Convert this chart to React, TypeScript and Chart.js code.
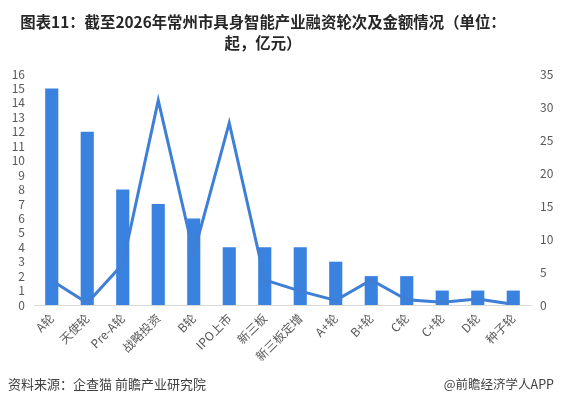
import React, { useEffect, useRef } from "react";
import { Chart, registerables } from "chart.js";

Chart.register(...registerables);

const categories = ["A轮", "天使轮", "Pre-A轮", "战略投资", "B轮", "IPO上市", "新三板", "新三板定增", "A+轮", "B+轮", "C轮", "C+轮", "D轮", "种子轮"];
const dealCounts = [15, 12, 8, 7, 6, 4, 4, 4, 3, 2, 2, 1, 1, 1];
const amounts = [3.7, 0.3, 6.2, 31, 7.8, 27.6, 3.8, 2.1, 0.7, 3.8, 0.8, 0.4, 0.9, 0.1];
const titleLines = ["图表11：截至2026年常州市具身智能产业融资轮次及金额情况（单位：", "起，亿元）"];
const sourceText = "资料来源：企查猫 前瞻产业研究院";
const brandText = "@前瞻经济学人APP";

const FONT = "'Noto Sans CJK SC', 'Noto Sans', sans-serif";

export default function App() {
  const ref = useRef<HTMLCanvasElement | null>(null);

  useEffect(() => {
    if (!ref.current) return;
    const chart = new Chart(ref.current, {
      type: "bar",
      data: {
        labels: categories,
        datasets: [
          {
            type: "line",
            label: "金额",
            data: amounts,
            yAxisID: "y1",
            borderColor: "#3f7fd6",
            borderWidth: 3,
            pointRadius: 0,
            tension: 0,
            fill: false,
            order: 1,
          },
          {
            type: "bar",
            label: "起数",
            data: dealCounts,
            yAxisID: "y",
            backgroundColor: "#3a82e0",
            categoryPercentage: 1,
            barPercentage: 0.37,
            order: 2,
          },
        ],
      },
      options: {
        responsive: false,
        animation: false,
        layout: { padding: { top: 74, left: 0, right: 0, bottom: 0 } },
        plugins: {
          legend: { display: false },
          title: { display: false },
          tooltip: { enabled: false },
        },
        scales: {
          x: {
            offset: true,
            grid: { display: false, drawTicks: false },
            border: { display: true, color: "#d9d9d9", width: 1 },
            ticks: {
              minRotation: 45,
              maxRotation: 45,
              autoSkip: false,
              padding: 6,
              color: "#595959",
              font: { size: 12, family: FONT },
            },
            afterFit: (s: any) => {
              s.height = 104;
            },
          },
          y: {
            position: "left",
            min: 0,
            max: 16,
            grid: { display: false, drawTicks: false },
            border: { display: false },
            ticks: {
              stepSize: 1,
              autoSkip: false,
              padding: 9,
              color: "#595959",
              font: { size: 12, family: FONT },
            },
            afterFit: (s: any) => {
              s.width = 34;
            },
          },
          y1: {
            position: "right",
            min: 0,
            max: 35,
            grid: { display: false, drawTicks: false },
            border: { display: false },
            ticks: {
              stepSize: 5,
              autoSkip: false,
              padding: 9,
              color: "#595959",
              font: { size: 12, family: FONT },
            },
            afterFit: (s: any) => {
              s.width = 37;
            },
          },
        },
      },
    });
    return () => chart.destroy();
  }, []);

  return (
    <div style={{ position: "fixed", left: 0, top: 0, width: 568, height: 409, background: "#fff", fontFamily: FONT }}>
      <canvas ref={ref} width={568} height={409} style={{ position: "absolute", left: 0, top: 0 }} />
      <div
        style={{
          position: "absolute",
          left: 0,
          top: 11,
          width: 526,
          textAlign: "center",
          fontWeight: "bold",
          fontSize: 15.4,
          lineHeight: "21px",
          color: "#262626",
          whiteSpace: "nowrap",
        }}
      >
        {titleLines.map((t, i) => (
          <div key={i}>{t}</div>
        ))}
      </div>
      <div style={{ position: "absolute", left: 8, top: 374, fontSize: 13, color: "#404040", whiteSpace: "nowrap" }}>
        {sourceText}
      </div>
      <div style={{ position: "absolute", right: 14, top: 374, fontSize: 12.5, color: "#404040", whiteSpace: "nowrap" }}>
        {brandText}
      </div>
    </div>
  );
}
